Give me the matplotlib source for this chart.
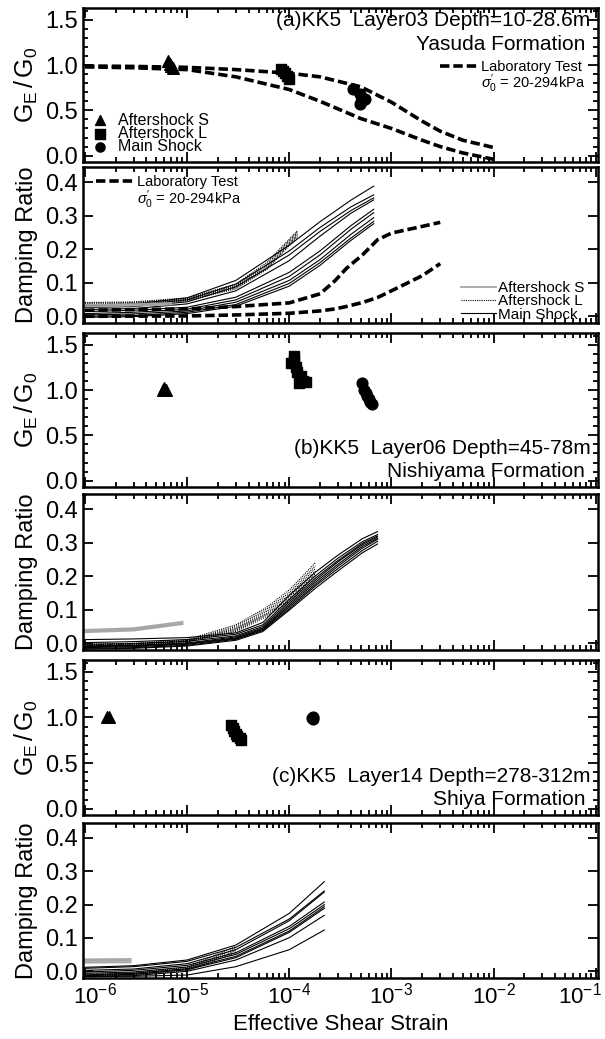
import matplotlib
matplotlib.use('Agg')
import matplotlib.pyplot as plt
import matplotlib.transforms as mtrans
from matplotlib.lines import Line2D
from matplotlib.ticker import (LogLocator, NullFormatter, MultipleLocator,
                               FormatStrFormatter, FixedLocator)

plt.rcParams['font.family'] = ['Liberation Sans', 'DejaVu Sans']
plt.rcParams['mathtext.fontset'] = 'custom'
plt.rcParams['mathtext.rm'] = 'Liberation Sans'
plt.rcParams['mathtext.it'] = 'Liberation Sans:italic'

x_decades = [1e-6, 1e-5, 1e-4, 1e-3, 1e-2, 1e-1]

# ---- laboratory test curves (layer 03) ----
lab_g_x = [1e-6, 3e-6, 1e-5, 3e-5, 1e-4, 2e-4, 5e-4, 1e-3, 2e-3, 3e-3, 5e-3, 1e-2]
lab_g_hi = [0.99, 0.985, 0.975, 0.95, 0.91, 0.87, 0.76, 0.59, 0.38, 0.27, 0.17, 0.09]
lab_g_lo = [0.98, 0.97, 0.95, 0.87, 0.73, 0.60, 0.41, 0.30, 0.17, 0.10, 0.03, -0.04]

lab_h_x = [1e-6, 1e-5, 3e-5, 1e-4, 2e-4, 2.8e-4, 3.6e-4, 5.2e-4, 7.3e-4, 1e-3, 2e-3, 3e-3]
lab_h_hi = [0.018, 0.022, 0.029, 0.040, 0.067, 0.106, 0.142, 0.183, 0.228, 0.248, 0.268, 0.280]
lab_h_lo = [0.000, 0.001, 0.004, 0.009, 0.016, 0.022, 0.029, 0.041, 0.056, 0.076, 0.121, 0.157]

# ---- G/G0 points ----
a_S_x = [6.5e-6, 6.8e-6, 7.0e-6, 7.3e-6]
a_S_y = [1.05, 1.01, 0.99, 0.97]
a_L_x = [8.3e-5, 8.6e-5, 9.0e-5, 9.5e-5, 1.0e-4]
a_L_y = [0.96, 0.93, 0.91, 0.88, 0.85]
a_M_x = [4.2e-4, 4.9e-4, 5.1e-4, 5.3e-4, 5.0e-4, 4.9e-4, 5.5e-4]
a_M_y = [0.74, 0.68, 0.64, 0.61, 0.59, 0.57, 0.62]

b_S_x = [5.8e-6, 6.0e-6, 6.2e-6]
b_S_y = [1.00, 1.02, 1.00]
b_L_x = [1.05e-4, 1.1e-4, 1.12e-4, 1.15e-4, 1.2e-4, 1.3e-4, 1.35e-4, 1.45e-4, 1.25e-4]
b_L_y = [1.30, 1.38, 1.33, 1.25, 1.20, 1.15, 1.10, 1.09, 1.08]
b_M_x = [5.2e-4, 5.4e-4, 5.6e-4, 5.8e-4, 6.0e-4, 6.2e-4, 6.4e-4]
b_M_y = [1.08, 1.00, 0.97, 0.94, 0.90, 0.87, 0.85]

c_S_x = [1.65e-6, 1.7e-6]
c_S_y = [1.00, 1.00]
c_L_x = [2.7e-5, 2.8e-5, 2.9e-5, 3.0e-5, 3.1e-5, 3.3e-5, 3.4e-5]
c_L_y = [0.92, 0.88, 0.85, 0.82, 0.80, 0.77, 0.75]
c_M_x = [1.68e-4, 1.72e-4, 1.70e-4]
c_M_y = [0.99, 1.00, 0.98]

# ---- damping curves ----
a_main_x = [1e-6, 3e-6, 1e-5, 3e-5, 1e-4, 2e-4, 4e-4, 6.7e-4]
a_main_y = [
    [0.032, 0.036, 0.055, 0.107, 0.212, 0.282, 0.346, 0.388],
    [0.029, 0.033, 0.049, 0.096, 0.195, 0.265, 0.326, 0.362],
    [0.026, 0.029, 0.043, 0.088, 0.183, 0.253, 0.315, 0.353],
    [0.020, 0.023, 0.037, 0.076, 0.166, 0.239, 0.307, 0.347],
    [0.014, 0.018, 0.027, 0.057, 0.131, 0.195, 0.270, 0.319],
    [0.008, 0.012, 0.021, 0.049, 0.119, 0.183, 0.259, 0.309],
    [0.004, 0.007, 0.016, 0.042, 0.107, 0.169, 0.244, 0.294],
    [0.000, 0.002, 0.012, 0.035, 0.098, 0.160, 0.233, 0.283],
    [-0.003, -0.001, 0.008, 0.030, 0.090, 0.152, 0.226, 0.276],
]
a_aftL_x = [1e-6, 3e-6, 1e-5, 3e-5, 6e-5, 1.2e-4]
a_aftL_y = [
    [0.041, 0.043, 0.055, 0.096, 0.160, 0.255],
    [0.039, 0.041, 0.053, 0.092, 0.154, 0.251],
    [0.036, 0.039, 0.050, 0.089, 0.148, 0.246],
    [0.034, 0.036, 0.048, 0.085, 0.143, 0.241],
    [0.032, 0.034, 0.046, 0.082, 0.139, 0.237],
]
a_aftS_x = [1e-6, 3e-6, 7e-6]
a_aftS_y = [[0.034, 0.036, 0.040], [0.029, 0.032, 0.035]]

b_main_x = [1e-6, 3e-6, 1e-5, 3e-5, 5.5e-5, 1e-4, 1.8e-4, 3e-4, 5.2e-4, 7.3e-4]
b_main_y = [
    [0.011, 0.013, 0.017, 0.031, 0.062, 0.143, 0.212, 0.263, 0.312, 0.333],
    [0.002, 0.005, 0.011, 0.027, 0.055, 0.131, 0.201, 0.254, 0.303, 0.324],
    [-0.003, -0.001, 0.006, 0.022, 0.050, 0.124, 0.194, 0.247, 0.298, 0.320],
    [-0.008, -0.006, 0.001, 0.019, 0.046, 0.118, 0.188, 0.243, 0.294, 0.317],
    [-0.010, -0.008, -0.001, 0.016, 0.043, 0.113, 0.182, 0.236, 0.289, 0.313],
    [-0.013, -0.010, -0.003, 0.014, 0.041, 0.108, 0.176, 0.230, 0.284, 0.310],
    [-0.015, -0.013, -0.006, 0.012, 0.038, 0.103, 0.171, 0.223, 0.277, 0.304],
    [-0.017, -0.015, -0.008, 0.009, 0.035, 0.099, 0.164, 0.216, 0.270, 0.296],
]
b_aftL_x = [1e-6, 3e-6, 1e-5, 3e-5, 6e-5, 1e-4, 1.8e-4]
b_aftL_y = [
    [-0.003, 0.000, 0.011, 0.055, 0.107, 0.159, 0.240],
    [-0.005, -0.001, 0.008, 0.050, 0.101, 0.151, 0.231],
    [-0.006, -0.002, 0.007, 0.045, 0.095, 0.144, 0.223],
    [-0.007, -0.003, 0.006, 0.042, 0.089, 0.137, 0.215],
    [-0.008, -0.005, 0.005, 0.038, 0.085, 0.131, 0.208],
    [-0.009, -0.006, 0.004, 0.035, 0.080, 0.125, 0.202],
]
b_aftS_x = [1e-6, 3e-6, 9e-6]
b_aftS_y = [[0.040, 0.045, 0.064], [0.036, 0.042, 0.059], [0.033, 0.038, 0.057]]

c_main_x = [1e-6, 3e-6, 1e-5, 3e-5, 1e-4, 2.2e-4]
c_main_y = [
    [0.012, 0.017, 0.034, 0.079, 0.174, 0.269],
    [0.009, 0.014, 0.030, 0.072, 0.157, 0.241],
    [0.003, 0.007, 0.023, 0.065, 0.152, 0.238],
    [-0.002, 0.003, 0.018, 0.056, 0.135, 0.208],
    [-0.006, -0.002, 0.013, 0.051, 0.128, 0.200],
    [-0.011, -0.006, 0.008, 0.045, 0.121, 0.194],
    [-0.013, -0.009, 0.005, 0.041, 0.117, 0.189],
    [-0.016, -0.013, 0.000, 0.034, 0.101, 0.168],
    [-0.015, -0.015, -0.011, 0.014, 0.065, 0.124],
]
c_aftL_x = [1e-6, 3e-6, 1e-5, 3e-5]
c_aftL_y = [
    [-0.009, -0.004, 0.012, 0.075],
    [-0.011, -0.006, 0.008, 0.068],
    [-0.013, -0.009, 0.005, 0.062],
    [-0.015, -0.011, 0.002, 0.056],
]
c_aftS_x = [1e-6, 2.8e-6]
c_aftS_y = [[0.036, 0.037], [0.031, 0.032], [0.026, 0.027]]

panel_text = [
    ['(a)KK5  Layer03 Depth=10-28.6m', 'Yasuda Formation'],
    ['(b)KK5  Layer06 Depth=45-78m', 'Nishiyama Formation'],
    ['(c)KK5  Layer14 Depth=278-312m', 'Shiya Formation'],
]
sigma_label = r"$\sigma^{\prime}_{0}$ = 20-294kPa"

LAB = dict(color='k', lw=2.6, linestyle=(0, (2.6, 1.1)))
MAIN = dict(color='k', lw=0.8)
AFTL = dict(color='k', lw=0.8, linestyle=(0, (1, 1)))
AFTS = dict(color='0.65', lw=1.3)

fig = plt.figure(figsize=(6.05, 10.39), dpi=100)
W, H = 605.0, 1039.0
x0, x1 = 82.7, 598.0
rows = [(8, 162), (167, 323), (333, 487), (494, 650), (660, 815), (823, 978)]
axes = []
for top, bot in rows:
    ax = fig.add_axes([x0 / W, 1 - bot / H, (x1 - x0) / W, (bot - top) / H])
    axes.append(ax)


def style(ax, kind, last=False):
    ax.set_xscale('log')
    ax.set_xlim(9.5e-7, 1.05e-1)
    ax.xaxis.set_major_locator(FixedLocator(x_decades))
    ax.xaxis.set_minor_locator(LogLocator(base=10, subs=range(2, 10), numticks=20))
    ax.xaxis.set_minor_formatter(NullFormatter())
    if kind == 'g':
        ax.set_ylim(-0.07, 1.63)
        ax.yaxis.set_major_locator(MultipleLocator(0.5))
        ax.yaxis.set_minor_locator(MultipleLocator(0.1))
        ax.set_ylabel(r'$\mathregular{G_E\,/\,G_0}$', fontsize=18, labelpad=4)
    else:
        ax.set_ylim(-0.02, 0.445)
        ax.yaxis.set_major_locator(MultipleLocator(0.1))
        ax.yaxis.set_minor_locator(MultipleLocator(0.1))
        ax.set_ylabel('Damping Ratio', fontsize=17, labelpad=5)
    ax.yaxis.set_major_formatter(FormatStrFormatter('%.1f'))
    ax.tick_params(which='both', direction='in', top=True, right=True, labelsize=17, width=1.3)
    ax.tick_params(axis='x', labelsize=16)
    ax.tick_params(which='major', length=7)
    ax.tick_params(which='minor', length=3.5)
    if not last:
        ax.tick_params(axis='x', labelbottom=False)
    for sp in ax.spines.values():
        sp.set_linewidth(1.8)


# ---- (a) G/G0 ----
ax = axes[0]
style(ax, 'g')
lab_line, = ax.plot(lab_g_x, lab_g_hi, **LAB)
ax.plot(lab_g_x, lab_g_lo, **LAB)
hS = ax.scatter(a_S_x, a_S_y, marker='^', s=70, c='k', zorder=3)
hL = ax.scatter(a_L_x, a_L_y, marker='s', s=60, c='k', zorder=3)
hM = ax.scatter(a_M_x, a_M_y, marker='o', s=60, c='k', zorder=3)
leg1 = ax.legend([hS, hL, hM], ['Aftershock S', 'Aftershock L', 'Main Shock'],
                 loc='lower left', bbox_to_anchor=(-0.012, -0.04), frameon=False, fontsize=11.5,
                 handletextpad=0.5, labelspacing=-0.12, handlelength=1.2, scatterpoints=1,
                 markerscale=0.85)
ax.add_artist(leg1)
ax.legend([lab_line, Line2D([], [], color='none')], ['Laboratory Test', sigma_label],
          loc='upper right', bbox_to_anchor=(1.0, 0.75), frameon=False, fontsize=10.5,
          handlelength=2.6, handletextpad=0.2, labelspacing=-0.1)

# ---- (a) damping ----
ax = axes[1]
style(ax, 'h')
for yy in a_main_y:
    ax.plot(a_main_x, yy, **MAIN)
for yy in a_aftL_y:
    ax.plot(a_aftL_x, yy, **AFTL)
for yy in a_aftS_y:
    ax.plot(a_aftS_x, yy, **AFTS)
lab2, = ax.plot(lab_h_x, lab_h_hi, **LAB)
ax.plot(lab_h_x, lab_h_lo, **LAB)
legA = ax.legend([lab2, Line2D([], [], color='none')], ['Laboratory Test', sigma_label],
                 loc='upper left', bbox_to_anchor=(0.0, 1.03), frameon=False, fontsize=10.5,
                 handlelength=2.6, handletextpad=0.2, labelspacing=-0.05)
ax.add_artist(legA)
ax.legend([Line2D([], [], **AFTS), Line2D([], [], **AFTL), Line2D([], [], **MAIN)],
          ['Aftershock S', 'Aftershock L', 'Main Shock'],
          loc='lower right', bbox_to_anchor=(1.0, -0.08), frameon=False, fontsize=11,
          handlelength=2.3, handletextpad=0.1, labelspacing=-0.05)

# ---- (b) ----
ax = axes[2]
style(ax, 'g')
ax.scatter(b_S_x, b_S_y, marker='^', s=70, c='k', zorder=3)
ax.scatter(b_L_x, b_L_y, marker='s', s=60, c='k', zorder=3)
ax.scatter(b_M_x, b_M_y, marker='o', s=60, c='k', zorder=3)

ax = axes[3]
style(ax, 'h')
for yy in b_main_y:
    ax.plot(b_main_x, yy, **MAIN)
for yy in b_aftL_y:
    ax.plot(b_aftL_x, yy, **AFTL)
for yy in b_aftS_y:
    ax.plot(b_aftS_x, yy, **AFTS)

# ---- (c) ----
ax = axes[4]
style(ax, 'g')
ax.scatter(c_S_x, c_S_y, marker='^', s=70, c='k', zorder=3)
ax.scatter(c_L_x, c_L_y, marker='s', s=60, c='k', zorder=3)
ax.scatter(c_M_x, c_M_y, marker='o', s=60, c='k', zorder=3)

ax = axes[5]
style(ax, 'h', last=True)
for yy in c_main_y:
    ax.plot(c_main_x, yy, **MAIN)
for yy in c_aftL_y:
    ax.plot(c_aftL_x, yy, **AFTL)
for yy in c_aftS_y:
    ax.plot(c_aftS_x, yy, **AFTS)
ax.set_xlabel('Effective Shear Strain', fontsize=16, labelpad=4)
# nudge the end labels inward so they stay on the page
fig.canvas.draw()
xlabels = ax.get_xticklabels()
xlabels[0].set_transform(xlabels[0].get_transform()
                         + mtrans.ScaledTranslation(0.1, 0, fig.dpi_scale_trans))
xlabels[-1].set_transform(xlabels[-1].get_transform()
                          + mtrans.ScaledTranslation(-0.16, 0, fig.dpi_scale_trans))

# panel titles
for ax, (t1, t2), ys in zip([axes[0], axes[2], axes[4]], panel_text,
                            [(0.92, 0.765), (0.25, 0.10), (0.25, 0.10)]):
    ax.text(0.985, ys[0], t1, transform=ax.transAxes, ha='right', va='center', fontsize=15)
    ax.text(0.975, ys[1], t2, transform=ax.transAxes, ha='right', va='center', fontsize=15)

fig.savefig('out.png', dpi=100)
